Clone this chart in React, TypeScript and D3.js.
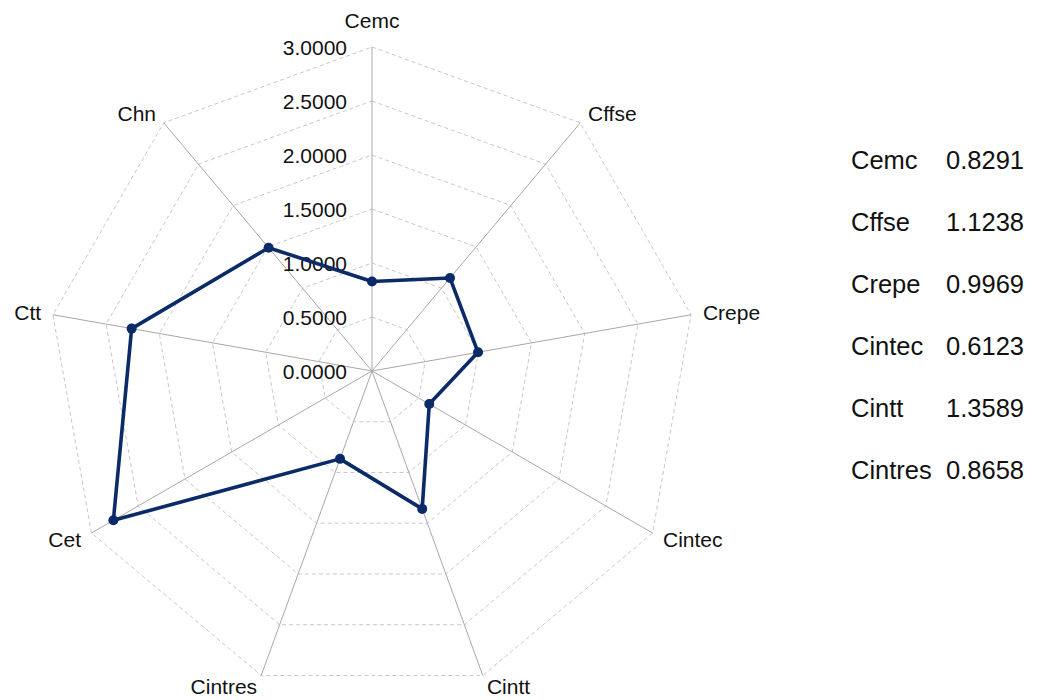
import * as React from "react";
import * as d3 from "d3";

const { useRef, useEffect } = React;

// axes, clockwise from the top
const axisNames = ["Cemc", "Cffse", "Crepe", "Cintec", "Cintt", "Cintres", "Cet", "Ctt", "Chn"];
const axisValues = [0.8291, 1.1238, 0.9969, 0.6123, 1.3589, 0.8658, 2.765, 2.26, 1.49];
const gridTicks = [0, 0.5, 1.0, 1.5, 2.0, 2.5, 3.0];
// the table on the right only lists the first six
const tableNames = ["Cemc", "Cffse", "Crepe", "Cintec", "Cintt", "Cintres"];
const tableValues = ["0.8291", "1.1238", "0.9969", "0.6123", "1.3589", "0.8658"];

const FONT = "'Liberation Sans', Arial, Helvetica, sans-serif";

export const RadarChart = () => {
    const svgRef = useRef(null);

    useEffect(() => {
        const svg = d3.select(svgRef.current);
        svg.selectAll("*").remove();

        const cx = 372, cy = 371, R = 324;
        const n = axisNames.length;
        const r = d3.scaleLinear().domain([0, 3]).range([0, R]);
        const angle = (i: number) => (i * 2 * Math.PI) / n;
        const pt = (i: number, rad: number): [number, number] =>
            [cx + rad * Math.sin(angle(i)), cy - rad * Math.cos(angle(i))];

        const g = svg.append("g");

        // dashed rings
        g.selectAll("polygon.ring")
            .data(gridTicks.slice(1))
            .enter().append("polygon")
            .attr("class", "ring")
            .attr("points", d => d3.range(n).map(i => pt(i, r(d)).join(",")).join(" "))
            .attr("fill", "none")
            .attr("stroke", "#c8c8c8")
            .attr("stroke-width", 1)
            .attr("stroke-dasharray", "4,3");

        // spokes
        g.selectAll("line.spoke")
            .data(d3.range(n))
            .enter().append("line")
            .attr("class", "spoke")
            .attr("x1", cx).attr("y1", cy)
            .attr("x2", i => pt(i, R)[0])
            .attr("y2", i => pt(i, R)[1])
            .attr("stroke", "#a8a8a8")
            .attr("stroke-width", 1);

        // tick labels along the top axis
        g.selectAll("text.tick")
            .data(gridTicks)
            .enter().append("text")
            .attr("class", "tick")
            .attr("x", cx - 25)
            .attr("y", d => cy - r(d))
            .attr("dy", "0.36em")
            .attr("text-anchor", "end")
            .attr("font-family", FONT)
            .attr("font-size", 21)
            .attr("fill", "#111")
            .text(d => d3.format(".4f")(d));

        // axis names
        g.selectAll("text.axis-name")
            .data(axisNames)
            .enter().append("text")
            .attr("class", "axis-name")
            .attr("x", (d, i) => pt(i, R + 12)[0])
            .attr("y", (d, i) => i === 0 ? pt(i, R)[1] - 19 : pt(i, R + 12)[1])
            .attr("dy", (d, i) => i === 0 ? "0" : "0.36em")
            .attr("text-anchor", (d, i) => {
                const s = Math.sin(angle(i));
                return Math.abs(s) < 0.01 ? "middle" : s > 0 ? "start" : "end";
            })
            .attr("font-family", FONT)
            .attr("font-size", 21)
            .attr("fill", "#111")
            .text(d => d);

        // series
        const line = d3.lineRadial<number>()
            .angle((d, i) => angle(i))
            .radius(d => r(d))
            .curve(d3.curveLinearClosed);

        g.append("path")
            .attr("transform", `translate(${cx},${cy})`)
            .attr("d", line(axisValues))
            .attr("fill", "none")
            .attr("stroke", "#0b2a68")
            .attr("stroke-width", 3.6)
            .attr("stroke-linejoin", "round");

        g.selectAll("circle.dot")
            .data(axisValues)
            .enter().append("circle")
            .attr("class", "dot")
            .attr("cx", (d, i) => pt(i, r(d))[0])
            .attr("cy", (d, i) => pt(i, r(d))[1])
            .attr("r", 5)
            .attr("fill", "#0b2a68");

        // value table
        const legend = svg.append("g")
            .attr("font-family", FONT)
            .attr("font-size", 25.5)
            .attr("fill", "#111")
            .selectAll("g")
            .data(tableNames)
            .enter().append("g")
            .attr("transform", (d, i) => "translate(0," + (160 + i * 62) + ")");

        legend.append("text")
            .attr("x", 851)
            .attr("dy", "0.36em")
            .text(d => d);

        legend.append("text")
            .attr("x", 946)
            .attr("dy", "0.36em")
            .text((d, i) => tableValues[i]);
    }, []);

    return (
        <svg ref={svgRef} width={1037} height={700}
            style={{ position: "absolute", left: 0, top: 0, background: "#fff" }}>
        </svg>
    );
};

export default function App() {
    return <RadarChart />;
}
